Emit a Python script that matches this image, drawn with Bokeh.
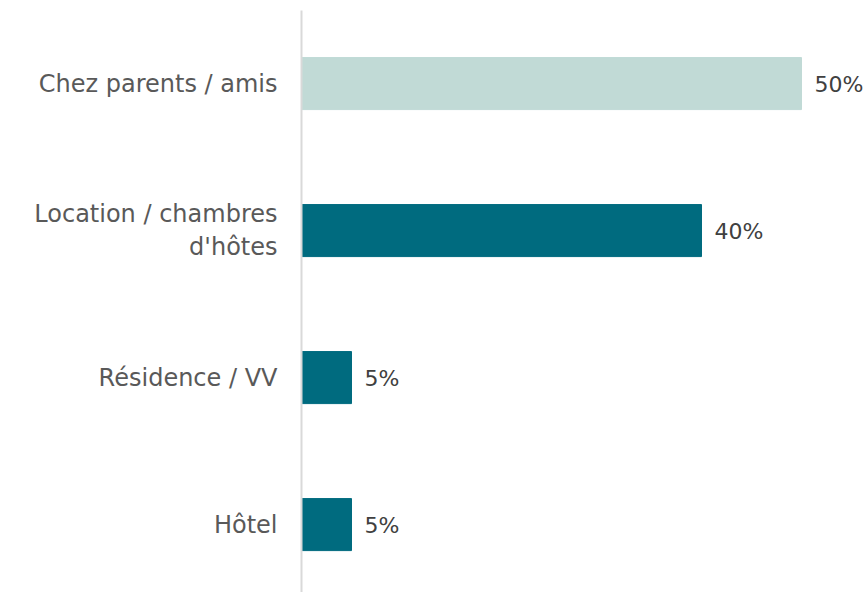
from bokeh.plotting import figure
from bokeh.models import Range1d, FixedTicker, ColumnDataSource, LabelSet
from bokeh.core.properties import value
from bokeh.embed import file_html
from bokeh.resources import INLINE

categories = ["Chez parents / amis", "Location / chambres\nd'hôtes", "Résidence / VV", "Hôtel"]
values = [50, 40, 5, 5]
colors = ["#c1dad6", "#006b7f", "#006b7f", "#006b7f"]
value_labels = ["50%", "40%", "5%", "5%"]

positions = [3, 2, 1, 0]

src = ColumnDataSource(dict(y=positions, v=values, c=colors, lab=value_labels))

p = figure(width=867, height=592, output_backend="svg", toolbar_location=None,
           x_range=Range1d(0, 56.6), y_range=Range1d(-0.462, 3.497),
           min_border_left=301, min_border_right=0, min_border_top=10, min_border_bottom=0)

p.hbar(y="y", right="v", left=0, height=0.354, color="c", source=src)

labels = LabelSet(x="v", y="y", text="lab", source=src, text_baseline="middle",
                  x_offset=13, y_offset=-1,
                  text_font=value("DejaVu Sans"), text_font_size="22px", text_color="#404040")
p.add_layout(labels)

p.xaxis.visible = False
p.xgrid.visible = False
p.ygrid.visible = False
p.outline_line_color = None

ax = p.yaxis[0]
ax.ticker = FixedTicker(ticks=positions)
ax.major_label_overrides = {pos: cat for pos, cat in zip(positions, categories)}
ax.major_tick_line_color = None
ax.minor_tick_line_color = None
ax.major_tick_out = 0
ax.major_tick_in = 0
ax.major_label_standoff = 24
ax.axis_line_color = "#d9d9d9"
ax.axis_line_width = 2
ax.major_label_text_font = "DejaVu Sans"
ax.major_label_text_font_size = "24px"
ax.major_label_text_color = "#595959"

open("out.html", "w").write(file_html(p, INLINE))
